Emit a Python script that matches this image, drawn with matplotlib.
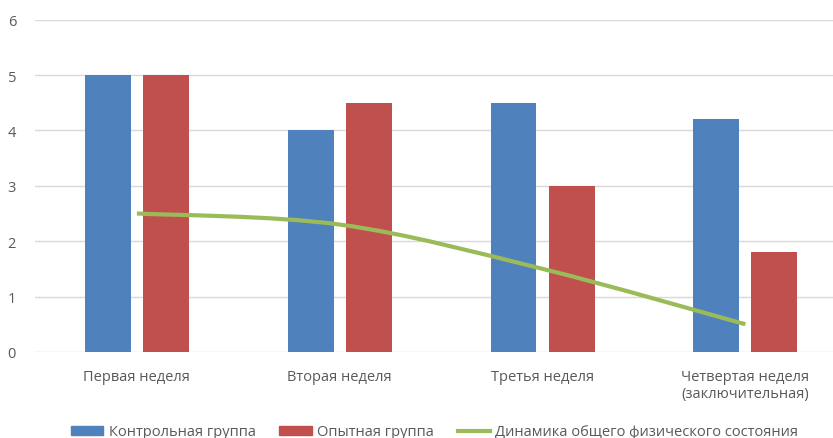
import numpy as np
import matplotlib.pyplot as plt
from matplotlib.path import Path
import matplotlib.patches as patches
from matplotlib.lines import Line2D

plt.rcParams['font.family'] = ['Open Sans', 'DejaVu Sans']

# -----------------------------
# Data
# -----------------------------
categories = ["Первая неделя", "Вторая неделя", "Третья неделя",
              "Четвертая неделя\n(заключительная)"]
control = [5, 4, 4.5, 4.2]
experimental = [5, 4.5, 3, 1.8]
dynamics = [2.5, 2.3, 1.5, 0.5]

series_names = ["Контрольная группа", "Опытная группа",
                "Динамика общего физического состояния"]

blue = "#4F81BD"
red = "#C0504D"
green = "#9BBB59"
text_gray = "#595959"


def smooth_path(xs, ys, tension=1 / 6):
    # Excel-like smoothed line: cubic Bezier segments through the points
    pts = np.column_stack([xs, ys]).astype(float)
    n = len(pts)
    verts = [pts[0]]
    codes = [Path.MOVETO]
    for i in range(n - 1):
        p0 = pts[i - 1] if i > 0 else pts[i]
        p1 = pts[i]
        p2 = pts[i + 1]
        p3 = pts[i + 2] if i + 2 < n else pts[i + 1]
        c1 = p1 + (p2 - p0) * tension
        c2 = p2 - (p3 - p1) * tension
        verts += [c1, c2, p2]
        codes += [Path.CURVE4] * 3
    return Path(verts, codes)


fig = plt.figure(figsize=(8.33, 4.39), dpi=100)
ax = fig.add_axes([0.0426, 0.196, 0.974, 0.757])

x = np.arange(len(categories))
w = 0.226
ax.bar(x - 0.143, control, width=w, color=blue, zorder=2)
ax.bar(x + 0.143, experimental, width=w, color=red, zorder=2)

path = smooth_path(x, dynamics)
ax.add_patch(patches.PathPatch(path, facecolor="none", edgecolor=green,
                               lw=3, capstyle="butt", zorder=3))

ax.set_xlim(-0.5, len(categories) - 0.5)
ax.set_ylim(0, 6)
ax.set_yticks(range(0, 7))
ax.set_xticks(x)
ax.set_xticklabels(categories)
ax.yaxis.grid(True, color="#D9D9D9", lw=1)
ax.set_axisbelow(True)
for s in ax.spines.values():
    s.set_visible(False)
ax.tick_params(axis="both", length=0, colors=text_gray, labelsize=10.5)
ax.tick_params(axis="x", pad=12)
ax.tick_params(axis="y", pad=14)

handles = [
    patches.Patch(color=blue),
    patches.Patch(color=red),
    Line2D([0], [0], color=green, lw=3),
]
leg = fig.legend(handles, series_names, loc="center",
                 bbox_to_anchor=(0.522, 1 - 433 / 439), ncol=3,
                 frameon=False, fontsize=10.5, handlelength=2.2,
                 handleheight=0.6, columnspacing=1.6, handletextpad=0.4)
for t in leg.get_texts():
    t.set_color(text_gray)

fig.savefig("out.png", dpi=100)
